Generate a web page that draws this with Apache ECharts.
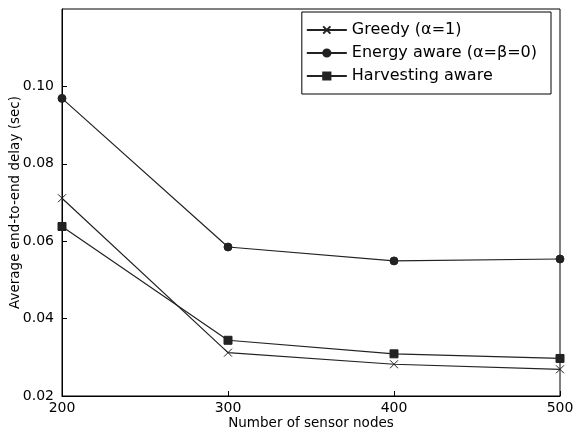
<!DOCTYPE html>
<html>
<head>
    <meta charset="UTF-8">
    <title>Average end-to-end delay</title>
    <script src="https://cdn.jsdelivr.net/npm/echarts@6/dist/echarts.min.js"></script>
    <style>
    * { margin: 0; padding: 0; }
    body { background: #fff; }
    #chart { width: 573px; height: 432px; }
    </style>
</head>
<body>
<div id="chart"></div>
<script>
    // data
    var nodes = [200, 300, 400, 500];
    var greedy = [0.0711, 0.0312, 0.0282, 0.0269];
    var energyAware = [0.0969, 0.0585, 0.0549, 0.0554];
    var harvestingAware = [0.0638, 0.0344, 0.0309, 0.0297];
    var seriesNames = ['Greedy (\u03b1=1)', 'Energy aware (\u03b1=\u03b2=0)', 'Harvesting aware'];

    function pairs(ys) {
        return nodes.map(function (x, i) { return [x, ys[i]]; });
    }

    var font = 'DejaVu Sans';
    var crossPath = 'path://M0,0L10,10M10,0L0,10';

    function mkSeries(name, ys, symbol, size) {
        return {
            name: name,
            type: 'line',
            data: pairs(ys),
            symbol: symbol,
            symbolSize: size,
            lineStyle: { color: '#222', width: 1.2 },
            itemStyle: { color: '#222', borderColor: '#222', borderWidth: 1 }
        };
    }

    var chart = echarts.init(document.getElementById('chart'), null, { renderer: 'canvas' });
    chart.setOption({
        animation: false,
        textStyle: { fontFamily: font },
        grid: {
            left: 62, right: 13, top: 9, bottom: 36,
            containLabel: false, outerBoundsMode: 'none',
            show: true, borderColor: '#000', borderWidth: 1
        },
        legend: {
            orient: 'vertical',
            right: 22, top: 12,
            itemWidth: 40, itemHeight: 9, itemGap: 7,
            padding: [10, 14, 10, 4],
            borderColor: '#000', borderWidth: 1,
            textStyle: { fontFamily: font, fontSize: 16, color: '#000' },
            data: seriesNames
        },
        xAxis: {
            type: 'value',
            min: 200, max: 500, interval: 100,
            name: 'Number of sensor nodes',
            nameLocation: 'middle', nameGap: 20, nameMoveOverlap: false,
            nameTextStyle: { fontFamily: font, fontSize: 13.5, color: '#000' },
            axisLine: { lineStyle: { color: '#000' } },
            axisTick: { inside: true, length: 5, lineStyle: { color: '#000' } },
            axisLabel: { fontFamily: font, fontSize: 14, color: '#000', margin: 5 },
            splitLine: { show: false }
        },
        yAxis: {
            type: 'value',
            min: 0.02, max: 0.12, interval: 0.02,
            name: 'Average end-to-end delay (sec)',
            nameLocation: 'middle', nameGap: 40, nameMoveOverlap: false,
            nameTextStyle: { fontFamily: font, fontSize: 13.5, color: '#000' },
            axisLine: { show: true, lineStyle: { color: '#000' } },
            axisTick: { inside: true, length: 5, lineStyle: { color: '#000' } },
            axisLabel: {
                fontFamily: font, fontSize: 14, color: '#000', margin: 8,
                showMaxLabel: false,
                formatter: function (v) { return v.toFixed(2); }
            },
            splitLine: { show: false }
        },
        series: [
            mkSeries(seriesNames[0], greedy, crossPath, 8),
            mkSeries(seriesNames[1], energyAware, 'circle', 8),
            mkSeries(seriesNames[2], harvestingAware, 'rect', 8)
        ]
    });
</script>
</body>
</html>
